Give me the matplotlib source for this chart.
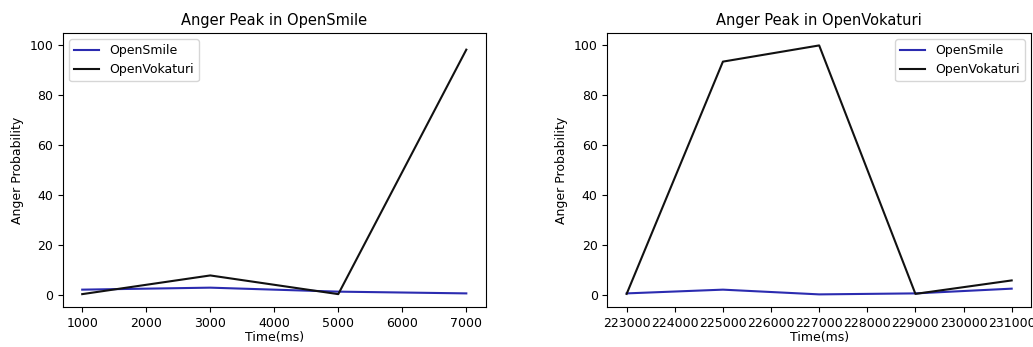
import numpy as np
import matplotlib
matplotlib.use('Agg')
import matplotlib.pyplot as plt

# left panel: peak in OpenSmile
time_smile = [1000, 3000, 5000, 7000]
smile_a = [2.0, 2.8, 1.2, 0.5]
voka_a = [0.2, 7.7, 0.2, 98.3]

# right panel: peak in OpenVokaturi
time_voka = [223000, 225000, 227000, 229000, 231000]
smile_b = [0.5, 2.0, 0.1, 0.5, 2.4]
voka_b = [0.3, 93.5, 100.0, 0.3, 5.7]

BLUE = '#2b2bb0'

plt.rcParams['font.size'] = 9

fig = plt.figure(figsize=(10.33, 3.47), dpi=100)
ax1 = fig.add_axes([0.061, 0.115, 0.409, 0.79])
ax2 = fig.add_axes([0.588, 0.115, 0.410, 0.79])


def graph_set(ax, title, loc):
    ax.set_title(title, fontsize=10.5)
    ax.set_xlabel('Time(ms)', labelpad=1)
    ax.set_ylabel('Anger Probability')
    ax.set_ylim(-5, 105)
    ax.legend(loc=loc)


ax1.plot(time_smile, smile_a, color=BLUE, label='OpenSmile')
ax1.plot(time_smile, voka_a, color='#111111', label='OpenVokaturi')
ax1.set_xticks(np.arange(1000, 7001, 1000))
graph_set(ax1, 'Anger Peak in OpenSmile', 'upper left')

ax2.plot(time_voka, smile_b, color=BLUE, label='OpenSmile')
ax2.plot(time_voka, voka_b, color='#111111', label='OpenVokaturi')
ax2.set_xticks(np.arange(223000, 231001, 1000))
graph_set(ax2, 'Anger Peak in OpenVokaturi', 'upper right')

fig.savefig('out.png', dpi=100)
